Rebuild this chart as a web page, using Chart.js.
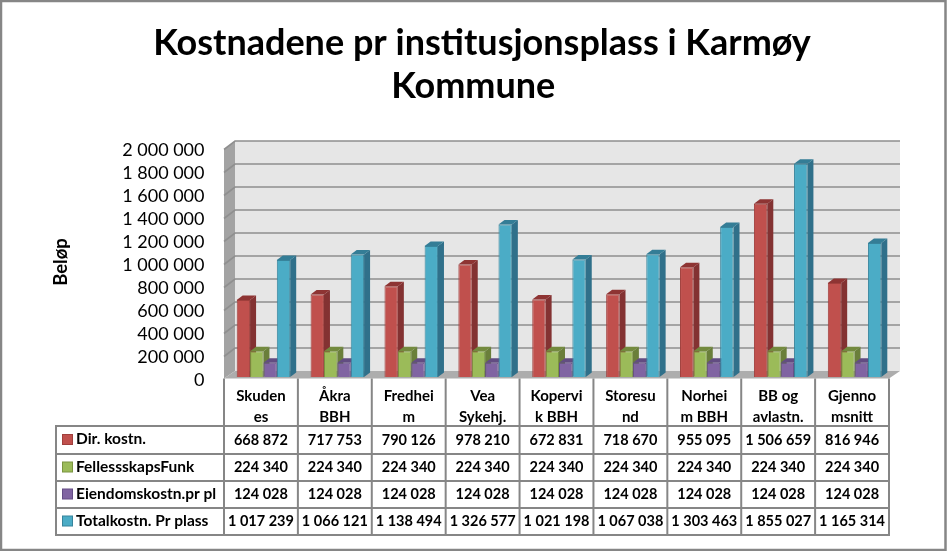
<!DOCTYPE html>
<html>
<head>
<meta charset="utf-8">
<style>
    html, body { margin: 0; background: #fff; }
    canvas { display: block; }
</style>
<script src="https://cdn.jsdelivr.net/npm/chart.js@4"></script>
</head>
<body>
<canvas id="barChart" width="947" height="551"></canvas>
<script>
// leading spaces keep the first line a bit right of "Kommune", as in the original
const titleLines = ["\u00a0\u00a0Kostnadene pr institusjonsplass i Karmøy", "Kommune"];
const yAxisTitle = "Beløp";
const categories = [
    ["Skuden", "es"], ["Åkra", "BBH"], ["Fredhei", "m"], ["Vea", "Sykehj."], ["Kopervi", "k BBH"],
    ["Storesu", "nd"], ["Norhei", "m BBH"], ["BB og", "avlastn."], ["Gjenno", "msnitt"]
];
const seriesNames = ["Dir. kostn.", "FellessskapsFunk", "Eiendomskostn.pr pl", "Totalkostn. Pr plass"];
const dirKostn = [668872, 717753, 790126, 978210, 672831, 718670, 955095, 1506659, 816946];
const fellesFunk = [224340, 224340, 224340, 224340, 224340, 224340, 224340, 224340, 224340];
const eiendomPl = [124028, 124028, 124028, 124028, 124028, 124028, 124028, 124028, 124028];
const totalPlass = [1017239, 1066121, 1138494, 1326577, 1021198, 1067038, 1303463, 1855027, 1165314];
const seriesValues = [dirKostn, fellesFunk, eiendomPl, totalPlass];

const FRONT = ["#c0504d", "#9bbb59", "#8064a2", "#4bacc6"];
const EDGE = ["#a03f3c", "#7a9440", "#644d85", "#37849c"];
const SIDE = ["#833232", "#6a7f3a", "#5a4678", "#30708a"];
const TOP = ["#8e3433", "#738a3e", "#624c82", "#347d96"];
const FONT = "Lato, sans-serif";
const LINE = "#868686";

// 1 017 239 style numbers
function fmt(v) {
    return String(v).replace(/\B(?=(\d{3})+$)/g, "\u00a0");
}

// walls, floor and grid behind the bars, then bar sides and tops
const depthPlugin = {
    id: "depth",
    beforeDatasetsDraw(chart) {
        const ctx = chart.ctx;
        const y = chart.scales.y;
        const a = chart.chartArea;
        const fl = a.left - 2.5, fr = a.right - 2.5;
        const dx = 11, back = -6, front = 1.5;
        const y0 = y.getPixelForValue(0), yMax = y.getPixelForValue(y.max);

        ctx.save();
        ctx.fillStyle = "#e6e6e6";
        ctx.fillRect(fl + dx, yMax + back, fr - fl, y0 - yMax);
        ctx.fillStyle = "#a3a3a3";
        poly(ctx, [[fl, yMax + front + 1], [fl + dx, yMax + back], [fl + dx, y0 + back], [fl, y0 + front]]);
        ctx.fillStyle = "#adadad";
        poly(ctx, [[fl, y0 + front], [fl + dx, y0 + back], [fr + dx, y0 + back], [fr, y0 + front]]);

        ctx.strokeStyle = "#8f8f8f";
        ctx.lineWidth = 1.6;
        y.ticks.forEach(t => {
            const py = y.getPixelForValue(t.value);
            if (t.value === 0) return;
            ctx.beginPath();
            ctx.moveTo(fl, py + front + 1);
            ctx.lineTo(fl + dx, py + back);
            ctx.lineTo(fr + dx, py + back);
            ctx.stroke();
        });

        seriesValues.forEach((s, i) => {
            chart.getDatasetMeta(i).data.forEach(bar => {
                const r = bar.x + bar.width / 2, l = bar.x - bar.width / 2;
                const ox = 6, oy = -4.5;
                ctx.fillStyle = SIDE[i];
                poly(ctx, [[r, bar.y], [r + ox, bar.y + oy], [r + ox, bar.base + oy], [r, bar.base]]);
                ctx.fillStyle = TOP[i];
                poly(ctx, [[l, bar.y], [l + ox, bar.y + oy], [r + ox, bar.y + oy], [r, bar.y]]);
            });
        });
        ctx.restore();
    },
    // data table under the plot and the outer frame
    afterDraw(chart) {
        const ctx = chart.ctx;
        const a = chart.chartArea;
        const fl = a.left - 2.5, fr = a.right - 2.5;
        const cw = (fr - fl) / categories.length;
        const rows = [426, 454, 481, 508, 535];
        const keyLeft = 56, top = a.bottom + 1.5;

        ctx.save();
        ctx.strokeStyle = LINE;
        ctx.lineWidth = 2;
        ctx.beginPath();
        rows.forEach(r => { ctx.moveTo(keyLeft, r); ctx.lineTo(fr, r); });
        ctx.moveTo(keyLeft, rows[0] - 1); ctx.lineTo(keyLeft, rows[4] + 1);
        for (let i = 0; i <= categories.length; i++) {
            ctx.moveTo(fl + i * cw, top); ctx.lineTo(fl + i * cw, rows[4] + 1);
        }
        ctx.stroke();

        ctx.textBaseline = "middle";
        seriesValues.forEach((s, i) => {
            const cy = (rows[i] + rows[i + 1]) / 2;
            ctx.fillStyle = FRONT[i];
            ctx.fillRect(62.5, cy - 5.5, 10, 10);
            ctx.strokeStyle = EDGE[i];
            ctx.lineWidth = 1;
            ctx.strokeRect(62.5, cy - 5.5, 10, 10);
            ctx.fillStyle = "#000";
            ctx.textAlign = "left";
            ctx.font = "bold 15.5px " + FONT;
            ctx.fillText(seriesNames[i], 76, cy - 1);
            ctx.textAlign = "center";
            ctx.font = "bold 14.5px " + FONT;
            s.forEach((v, c) => ctx.fillText(fmt(v), fl + (c + 0.5) * cw, cy));
        });

        ctx.strokeStyle = LINE;
        ctx.lineWidth = 2.5;
        ctx.strokeRect(1, 1, 944.5, 549);
        ctx.restore();
    }
};

function poly(ctx, pts) {
    ctx.beginPath();
    pts.forEach((p, i) => i ? ctx.lineTo(p[0], p[1]) : ctx.moveTo(p[0], p[1]));
    ctx.closePath();
    ctx.fill();
}

new Chart(document.getElementById("barChart"), {
    type: "bar",
    data: {
        labels: categories,
        datasets: seriesValues.map((s, i) => ({
            label: seriesNames[i],
            data: s,
            backgroundColor: FRONT[i],
            borderColor: EDGE[i],
            borderWidth: 1
        }))
    },
    options: {
        responsive: false,
        animation: false,
        categoryPercentage: 0.724,
        barPercentage: 1,
        layout: { padding: { left: 55, right: 55.5, top: 0, bottom: 0 } },
        plugins: {
            legend: { display: false },
            tooltip: { enabled: false },
            title: {
                display: true,
                text: titleLines,
                color: "#000",
                font: { family: FONT, size: 36, weight: "bold", lineHeight: "43px" },
                padding: { top: 22, bottom: 39 }
            }
        },
        scales: {
            x: {
                grid: { display: false, drawTicks: false },
                border: { display: false },
                afterFit(s) { s.height = 174; },
                ticks: {
                    autoSkip: false,
                    maxRotation: 0,
                    color: "#000",
                    labelOffset: -2.5,
                    padding: 9,
                    font: { family: FONT, size: 15, weight: "bold", lineHeight: "21px" }
                }
            },
            y: {
                min: 0,
                max: 2000000,
                afterFit(s) { s.width = 171.5; },
                grid: { display: false, drawTicks: false },
                border: { display: false },
                title: {
                    display: true,
                    text: yAxisTitle,
                    color: "#000",
                    padding: { top: -5, bottom: 0 },
                    font: { family: FONT, size: 18.5, weight: "bold" }
                },
                ticks: {
                    autoSkip: false,
                    stepSize: 200000,
                    color: "#000",
                    padding: 22,
                    labelOffset: 3,
                    font: { family: FONT, size: 18 },
                    callback: v => fmt(v)
                }
            }
        }
    },
    plugins: [depthPlugin]
});
</script>
</body>
</html>
